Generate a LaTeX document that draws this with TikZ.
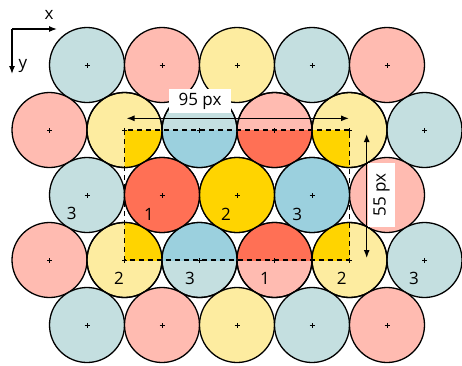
\documentclass[tikz,border=0pt]{standalone}
\usepackage{fontspec}
\setmainfont{Open Sans}
\usetikzlibrary{arrows.meta}
\definecolor{lb}{RGB}{196,223,224}
\definecolor{lp}{RGB}{255,187,177}
\definecolor{ly}{RGB}{253,236,160}
\definecolor{sb}{RGB}{155,208,222}
\definecolor{sr}{RGB}{255,112,85}
\definecolor{sy}{RGB}{255,212,0}
\tikzset{
  ball/.style={circle, minimum size=75pt, inner sep=0pt, draw=black, line width=1.3pt},
  lbl/.style={font=\fontsize{17}{20}\selectfont, inner sep=0pt},
  dim/.style={line width=1.3pt, {Latex[length=8pt,width=6pt]}-{Latex[length=8pt,width=6pt]}},
  axis/.style={line width=1.3pt, -{Latex[length=8pt,width=6pt]}},
  crossmark/.style={line width=0.6pt},
  dimbox/.style={fill=white, inner sep=0pt, font=\fontsize{17}{20}\selectfont}
}
\begin{document}
\begin{tikzpicture}[x=1pt,y=-1pt]
\useasboundingbox (0,0) rectangle (462,365);
% all balls
\foreach \x/\y/\c/\n in {
  87/65/lb/c00, 162/65/lp/c01, 237/65/ly/c02, 312/65/lb/c03, 387/65/lp/c04,
  49.5/130/lp/c10, 124.5/130/ly/c11, 199.5/130/lb/c12, 274.5/130/lp/c13, 349.5/130/ly/c14, 424.5/130/lb/c15,
  87/195/lb/c20, 162/195/lp/c21, 237/195/ly/c22, 312/195/lb/c23, 387/195/lp/c24,
  49.5/260/lp/c30, 124.5/260/ly/c31, 199.5/260/lb/c32, 274.5/260/lp/c33, 349.5/260/ly/c34, 424.5/260/lb/c35,
  87/325/lb/c40, 162/325/lp/c41, 237/325/ly/c42, 312/325/lb/c43, 387/325/lp/c44}
  \node[ball, fill=\c] (\n) at (\x,\y) {};
% saturated part inside the cell
\begin{scope}
  \clip (c11.center) rectangle (c34.center);
  \foreach \n/\c in {c11/sy, c12/sb, c13/sr, c14/sy, c21/sr, c22/sy, c23/sb, c31/sy, c32/sb, c33/sr, c34/sy}
    \fill[\c] (\n.center) circle (37.5pt);
\end{scope}
\foreach \n in {c11,c12,c13,c14,c21,c22,c23,c31,c32,c33,c34}
  \draw[line width=1.3pt] (\n.center) circle (37.5pt);
% dashed cell
\draw[line width=1.3pt, dash pattern=on 5pt off 4pt] (c11.center) rectangle (c34.center);
% centre crosses
\foreach \n in {c00,c01,c02,c03,c04,c10,c11,c12,c13,c14,c15,c20,c21,c22,c23,c24,c30,c31,c32,c33,c34,c35,c40,c41,c42,c43,c44}
  \draw[crossmark] ([xshift=-2.5pt]\n.center) -- ([xshift=2.5pt]\n.center)
                   ([yshift=-2.5pt]\n.center) -- ([yshift=2.5pt]\n.center);
% labels
\node[lbl] (l20) at (71.7,213.5) {3};
\node[lbl] (l21) at (149,214) {1};
\node[lbl] (l22) at (226,214) {2};
\node[lbl] (l23) at (297.3,214) {3};
\node[lbl] (l31) at (119,278.3) {2};
\node[lbl] (l32) at (190,278.3) {3};
\node[lbl] (l33) at (265,278.3) {1};
\node[lbl] (l34) at (341.7,278.3) {2};
\node[lbl] (l35) at (414,278.3) {3};
% 95 px dimension
\coordinate (h1) at (126.5,118.3);
\coordinate (h2) at (349,118.3);
\draw[dim] (h1) -- (h2);
\node[dimbox, minimum width=62pt, minimum height=24pt] (t95) at (200,101) {95 px};
% 55 px dimension
\coordinate (v1) at (366.7,134);
\coordinate (v2) at (366.7,258);
\draw[dim] (v1) -- (v2);
\node[dimbox, rotate=90, minimum width=64pt, minimum height=27pt] (t55) at (381.5,195) {55 px};
% axes
\coordinate (o) at (12,29);
\coordinate (ox) at (57,29);
\coordinate (oy) at (12,74);
\draw[axis] (o) -- (ox);
\draw[axis] (o) -- (oy);
\node[lbl] (lx) at (49,15) {x};
\node[lbl] (ly) at (23,66) {y};
\end{tikzpicture}
\end{document}
